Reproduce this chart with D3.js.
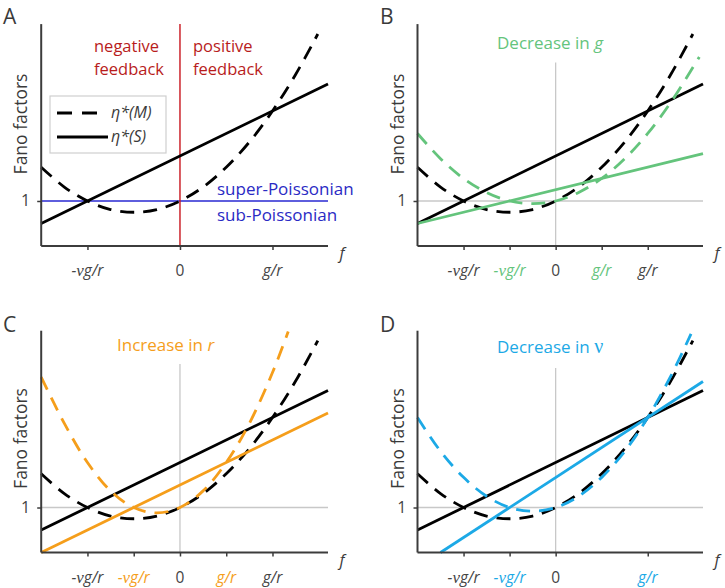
<!DOCTYPE html>
<html>
<head>
<meta charset="utf-8">
<script src="https://cdn.jsdelivr.net/npm/d3@7/dist/d3.min.js"></script>
<style>
  html, body { margin: 0; padding: 0; background: #fff; }
  svg { display: block; }
  text { font-family: "Open Sans", "DejaVu Sans", sans-serif; }
</style>
</head>
<body>
<svg id="chart" width="725" height="588"></svg>
<script>
// ---------------- DATA ----------------
// x: feedback strength f, in units of g/r of the reference case; y: Fano factor
// Reference (black) curves
const baseM_f   = [-1.5, -1.25, -1, -0.75, -0.5, -0.25, 0, 0.25, 0.5, 0.75, 1, 1.25, 1.49];
const baseM_eta = [1.75, 1.31, 1.0, 0.81, 0.75, 0.81, 1.0, 1.31, 1.75, 2.31, 3.0, 3.81, 4.71];
const baseS_f   = [-1.5, 1.6];
const baseS_eta = [0.5, 3.6];

// B: decrease in g (green)
const gM_f   = [-1.5, -1.25, -1, -0.75, -0.5, -0.25, 0, 0.25, 0.5, 0.75, 1, 1.25, 1.56];
const gM_eta = [2.5, 1.94, 1.5, 1.19, 1.0, 0.94, 1.0, 1.19, 1.5, 1.94, 2.5, 3.19, 4.2];
const gS_f   = [-1.5, 1.6];
const gS_eta = [0.5, 2.05];

// C: increase in r (orange)
const rM_f   = [-1.5, -1.25, -1, -0.75, -0.5, -0.25, 0, 0.25, 0.5, 0.75, 1, 1.17];
const rM_eta = [3.9, 2.87, 2.0, 1.37, 1.0, 0.88, 1.0, 1.37, 2.0, 2.87, 4.0, 4.91];
const rS_f   = [-1.5, 1.6];
const rS_eta = [0.0, 3.1];

// D: decrease in nu (blue)
const nM_f   = [-1.5, -1.25, -1, -0.75, -0.5, -0.25, 0, 0.25, 0.5, 0.75, 1, 1.25, 1.47];
const nM_eta = [3.0, 2.25, 1.67, 1.25, 1.0, 0.92, 1.0, 1.25, 1.67, 2.25, 3.0, 3.92, 4.86];
const nS_f   = [-1.25, 1.6];
const nS_eta = [0.0, 3.8];

// Tick positions and labels
const ticksA = [-1, 0, 1];
const labelsA = ["-νg/r", "0", "g/r"];
const ticksB = [-1, -0.5, 0, 0.5, 1];
const labelsB = ["-νg/r", "-νg/r", "0", "g/r", "g/r"];
const ticksC = [-1, -0.5, 0, 0.5, 1];
const labelsC = ["-νg/r", "-νg/r", "0", "g/r", "g/r"];
const ticksD = [-1, -0.5, 0, 1];
const labelsD = ["-νg/r", "-νg/r", "0", "g/r"];
const yTicks = [1];
const yTickLabels = ["1"];

// ---------------- STYLE ----------------
const C = {
  axis: "#3c3c3c", text: "#3a3a3a", tick: "#444",
  grid: "#c8c8c8", black: "#000",
  red: "#c8141c", redText: "#b81c1c",
  blue: "#2828d2", blueText: "#2a2ac4",
  green: "#64c47c", orange: "#f59e1b", cyan: "#1ca9e6"
};
const DASH = "14,9";
const xDom = [-1.5, 1.6], yDom = [0, 4.93];

const svg = d3.select("#chart");

function zip(fs, vs) { return fs.map((f, i) => [f, vs[i]]); }

function panel(opt) {
  const g = svg.append("g");
  const x = d3.scaleLinear().domain(xDom).range([opt.x0, opt.x1]);
  const y = d3.scaleLinear().domain(yDom).range([opt.yb, opt.yt]);
  const line = d3.line().x(d => x(d[0])).y(d => y(d[1])).curve(d3.curveCatmullRom.alpha(0.5));

  // reference lines
  opt.refs(g, x, y);

  // curves
  opt.curves.forEach(c => {
    g.append("path").datum(zip(c.f, c.v))
      .attr("d", line).attr("fill", "none")
      .attr("stroke", c.color).attr("stroke-width", c.w || 2.8)
      .attr("stroke-dasharray", c.dash ? DASH : null);
  });

  // axes
  const xAxis = d3.axisBottom(x).tickValues(opt.ticks).tickSize(4).tickFormat("");
  const gx = g.append("g").attr("transform", `translate(0,${y(0)})`).call(xAxis);
  gx.select(".domain").attr("d", `M${x(xDom[0])},0H${x(xDom[1])}`).attr("stroke", C.axis).attr("stroke-width", 2);
  gx.selectAll(".tick line").attr("stroke", C.axis).attr("stroke-width", 1.5);

  const yAxis = d3.axisLeft(y).tickValues(yTicks).tickSize(4).tickFormat("");
  const gy = g.append("g").attr("transform", `translate(${x(xDom[0])},0)`).call(yAxis);
  gy.select(".domain").attr("d", `M0,${y(yDom[1])}V${y(0)}`).attr("stroke", C.axis).attr("stroke-width", 2);
  gy.selectAll(".tick line").attr("stroke", C.axis).attr("stroke-width", 1.5);

  // y tick labels
  yTicks.forEach((t, i) => {
    g.append("text").attr("x", x(xDom[0]) - 11).attr("y", y(t) + 5.5)
      .attr("text-anchor", "end").attr("font-size", 16).attr("fill", C.tick).text(yTickLabels[i]);
  });

  // x tick labels
  opt.ticks.forEach((t, i) => {
    const lab = opt.labels[i];
    const col = opt.labelColors[i];
    const tx = g.append("text").attr("x", x(t)).attr("y", y(0) + 30)
      .attr("text-anchor", "middle").attr("font-size", 15.5).attr("fill", col);
    if (lab === "0") { tx.text("0"); return; }
    tx.attr("font-style", "italic");
    if (lab.startsWith("-ν")) {
      tx.append("tspan").text("-");
      tx.append("tspan").attr("font-family", "'Liberation Serif', 'DejaVu Serif', serif").attr("font-size", 17).text("ν");
      tx.append("tspan").text("g/r");
    } else {
      tx.text(lab);
    }
  });

  // f label
  g.append("text").attr("x", opt.x1 + 14).attr("y", y(0) + 13).attr("text-anchor", "middle")
    .attr("font-size", 16).attr("font-style", "italic").attr("fill", C.text).text("f");

  // y label
  g.append("text").attr("transform", `translate(${opt.x0 - 14},${opt.ylabY}) rotate(-90)`)
    .attr("text-anchor", "middle").attr("font-size", 17.5).attr("fill", C.text).text("Fano factors");

  // panel letter
  g.append("text").attr("x", opt.letterX).attr("y", opt.letterY)
    .attr("font-size", 21).attr("fill", C.text).text(opt.letter);

  if (opt.extra) opt.extra(g, x, y);
  return g;
}

const topY = { yb: 246, yt: 24.1, ylabY: 124, letterY: 23.5 };
const botY = { yb: 552.5, yt: 330.7, ylabY: 438.5, letterY: 331.5 };
const leftX = { x0: 41.2, x1: 328, letterX: 3 };
const rightX = { x0: 417.5, x1: 703, letterX: 380 };

function grayRefs(topStart) {
  return (g, x, y) => {
    g.append("line").attr("x1", x(0)).attr("x2", x(0)).attr("y1", topStart).attr("y2", y(0))
      .attr("stroke", C.grid).attr("stroke-width", 1.3);
    g.append("line").attr("x1", x(xDom[0])).attr("x2", x(xDom[1])).attr("y1", y(1)).attr("y2", y(1))
      .attr("stroke", C.grid).attr("stroke-width", 1.3);
  };
}

// ---------------- Panel A ----------------
panel(Object.assign({}, topY, leftX, {
  letter: "A",
  ticks: ticksA, labels: labelsA, labelColors: [C.tick, C.tick, C.tick],
  refs: (g, x, y) => {
    g.append("line").attr("x1", x(xDom[0])).attr("x2", x(xDom[1])).attr("y1", y(1)).attr("y2", y(1))
      .attr("stroke", C.blue).attr("stroke-width", 1.4);
    g.append("line").attr("x1", x(0)).attr("x2", x(0)).attr("y1", y(yDom[1])).attr("y2", y(0))
      .attr("stroke", C.red).attr("stroke-width", 1.4);
  },
  curves: [
    { f: baseM_f, v: baseM_eta, color: C.black, dash: true },
    { f: baseS_f, v: baseS_eta, color: C.black }
  ],
  extra: (g, x, y) => {
    const fs = 16.5;
    [["negative", 52], ["feedback", 74.5]].forEach(([t, yy]) =>
      g.append("text").attr("x", 94).attr("y", yy).attr("font-size", fs).attr("fill", C.redText).text(t));
    [["positive", 52], ["feedback", 74.5]].forEach(([t, yy]) =>
      g.append("text").attr("x", 193).attr("y", yy).attr("font-size", fs).attr("fill", C.redText).text(t));
    g.append("text").attr("x", 217).attr("y", 195).attr("font-size", 17).attr("fill", C.blueText).text("super-Poissonian");
    g.append("text").attr("x", 217).attr("y", 221).attr("font-size", 17).attr("fill", C.blueText).text("sub-Poissonian");
    // legend
    g.append("rect").attr("x", 50).attr("y", 96).attr("width", 116).attr("height", 57)
      .attr("fill", "#fff").attr("stroke", "#cfcfcf").attr("stroke-width", 1.2);
    g.append("line").attr("x1", 57).attr("x2", 106).attr("y1", 113).attr("y2", 113)
      .attr("stroke", C.black).attr("stroke-width", 2.8).attr("stroke-dasharray", "15,10");
    g.append("line").attr("x1", 57).attr("x2", 108).attr("y1", 137).attr("y2", 137)
      .attr("stroke", C.black).attr("stroke-width", 2.8);
    g.append("text").attr("x", 111).attr("y", 118).attr("font-size", 16).attr("font-style", "italic").attr("fill", C.text).text("η*(M)");
    g.append("text").attr("x", 111).attr("y", 142).attr("font-size", 16).attr("font-style", "italic").attr("fill", C.text).text("η*(S)");
  }
}));

// ---------------- Panel B ----------------
panel(Object.assign({}, topY, rightX, {
  letter: "B",
  ticks: ticksB, labels: labelsB, labelColors: [C.tick, C.green, C.tick, C.green, C.tick],
  refs: grayRefs(62.5),
  curves: [
    { f: baseM_f, v: baseM_eta, color: C.black, dash: true },
    { f: baseS_f, v: baseS_eta, color: C.black },
    { f: gM_f, v: gM_eta, color: C.green, dash: true },
    { f: gS_f, v: gS_eta, color: C.green }
  ],
  extra: (g) => {
    const t = g.append("text").attr("x", 497).attr("y", 49).attr("font-size", 17).attr("fill", C.green);
    t.append("tspan").text("Decrease in ");
    t.append("tspan").attr("font-style", "italic").text("g");
  }
}));

// ---------------- Panel C ----------------
panel(Object.assign({}, botY, leftX, {
  letter: "C",
  ticks: ticksC, labels: labelsC, labelColors: [C.tick, C.orange, C.tick, C.orange, C.tick],
  refs: grayRefs(364),
  curves: [
    { f: baseM_f, v: baseM_eta, color: C.black, dash: true },
    { f: baseS_f, v: baseS_eta, color: C.black },
    { f: rM_f, v: rM_eta, color: C.orange, dash: true },
    { f: rS_f, v: rS_eta, color: C.orange }
  ],
  extra: (g) => {
    const t = g.append("text").attr("x", 117).attr("y", 351).attr("font-size", 17).attr("fill", C.orange);
    t.append("tspan").text("Increase in ");
    t.append("tspan").attr("font-style", "italic").text("r");
  }
}));

// ---------------- Panel D ----------------
panel(Object.assign({}, botY, rightX, {
  letter: "D",
  ticks: ticksD, labels: labelsD, labelColors: [C.tick, C.cyan, C.tick, C.cyan],
  refs: grayRefs(368),
  curves: [
    { f: baseM_f, v: baseM_eta, color: C.black, dash: true },
    { f: baseS_f, v: baseS_eta, color: C.black },
    { f: nM_f, v: nM_eta, color: C.cyan, dash: true },
    { f: nS_f, v: nS_eta, color: C.cyan }
  ],
  extra: (g) => {
    const t = g.append("text").attr("x", 497).attr("y", 353).attr("font-size", 17).attr("fill", C.cyan);
    t.append("tspan").text("Decrease in ");
    t.append("tspan").attr("font-family", "'Liberation Serif', 'DejaVu Serif', serif").attr("font-size", 20).text("ν");
  }
}));
</script>
</body>
</html>
